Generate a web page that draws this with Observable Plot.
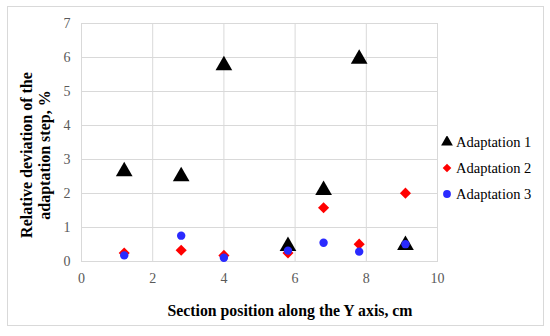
<!DOCTYPE html>
<html><head><meta charset="utf-8">
<script src="https://cdn.jsdelivr.net/npm/d3@7"></script>
<script src="https://cdn.jsdelivr.net/npm/@observablehq/plot@0.6"></script>
<style>
body{margin:0;background:#fff;}
#wrap{position:relative;width:550px;height:336px;font-family:"Liberation Serif",Tinos,"Times New Roman",Times,serif;}
#frame{position:absolute;left:7px;top:6px;width:535px;height:318px;border:1px solid #d9d9d9;pointer-events:none;}
#legend{position:absolute;left:441px;top:129px;font-size:14.5px;color:#000;}
#legend div{height:26px;display:flex;align-items:center;}
#legend svg{margin-right:3px;}
#ylab{position:absolute;left:36px;top:155px;transform:translate(-50%,-50%) rotate(-90deg);white-space:nowrap;text-align:center;font-weight:bold;font-size:16px;line-height:18px;}
#xlab{position:absolute;left:290px;top:311px;transform:translate(-50%,-50%);white-space:nowrap;font-weight:bold;font-size:15.8px;}
svg text{font-family:"Liberation Serif",Tinos,"Times New Roman",Times,serif;}
</style></head>
<body><div id="wrap"><div id="frame"></div><div id="legend"></div><div id="ylab">Relative deviation of the<br>adaptation step, %</div><div id="xlab">Section position along the Y axis, cm</div></div>
<script>
const positions = [1.2, 2.8, 4.0, 5.8, 6.8, 7.8, 9.1];
const adaptation1 = [2.65, 2.5, 5.77, 0.45, 2.1, 5.96, 0.48];
const adaptation2 = [0.25, 0.33, 0.18, 0.25, 1.58, 0.51, 2.01];
const adaptation3 = [0.18, 0.76, 0.11, 0.32, 0.55, 0.29, 0.51];
const seriesNames = ["Adaptation 1", "Adaptation 2", "Adaptation 3"];
const seriesColors = ["#000000", "#ff0000", "#2a2aff"];
const seriesSymbols = ["triangle", "diamond2", "circle"];
const seriesR = [6.2, 5.0, 4.2];
const xTicks = [0, 2, 4, 6, 8, 10];
const yTicks = [0, 1, 2, 3, 4, 5, 6, 7];

const allSeries = [adaptation1, adaptation2, adaptation3];
const data = [];
allSeries.forEach((vals, si) => vals.forEach((v, i) => data.push({x: positions[i], y: v, s: seriesNames[si], r: seriesR[si]})));

const chart = Plot.plot({
  width: 550, height: 336,
  marginLeft: 81, marginRight: 113, marginTop: 23, marginBottom: 75,
  style: {fontFamily: '"Liberation Serif", Tinos, "Times New Roman", serif', fontSize: "14px", background: "transparent"},
  x: {domain: [0, 10], ticks: xTicks, tickSize: 0, tickPadding: 12, label: null},
  y: {domain: [0, 7], ticks: yTicks, tickSize: 0, tickPadding: 11, label: null},
  color: {domain: seriesNames, range: seriesColors},
  symbol: {domain: seriesNames, range: seriesSymbols},
  r: {type: "identity"},
  marks: [
    Plot.gridX(xTicks, {stroke: "#d9d9d9", strokeOpacity: 1}),
    Plot.gridY(yTicks, {stroke: "#d9d9d9", strokeOpacity: 1}),
    Plot.frame({stroke: "#d9d9d9"}),
    Plot.axisX({ticks: xTicks, tickSize: 0, tickPadding: 12, fill: "#595959", label: null, tickFormat: d3.format("d")}),
    Plot.axisY({ticks: yTicks, tickSize: 0, tickPadding: 11, fill: "#595959", label: null, tickFormat: d3.format("d")}),
    Plot.dot(data, {x: "x", y: "y", fill: "s", symbol: "s", r: "r", stroke: null})
  ]
});
chart.style.position = "absolute";
chart.style.left = "0px";
chart.style.top = "0px";
document.getElementById("wrap").prepend(chart);

const legend = document.getElementById("legend");
const symMap = {triangle: d3.symbolTriangle, diamond2: d3.symbolDiamond2, circle: d3.symbolCircle};
seriesNames.forEach((n, i) => {
  const row = document.createElement("div");
  const sym = d3.symbol(symMap[seriesSymbols[i]], i === 0 ? 60 : 48)();
  row.innerHTML = `<svg width="12" height="12" viewBox="-6 -6 12 12"><path d="${sym}" fill="${seriesColors[i]}"/></svg><span>${n}</span>`;
  legend.appendChild(row);
});
</script></body></html>
